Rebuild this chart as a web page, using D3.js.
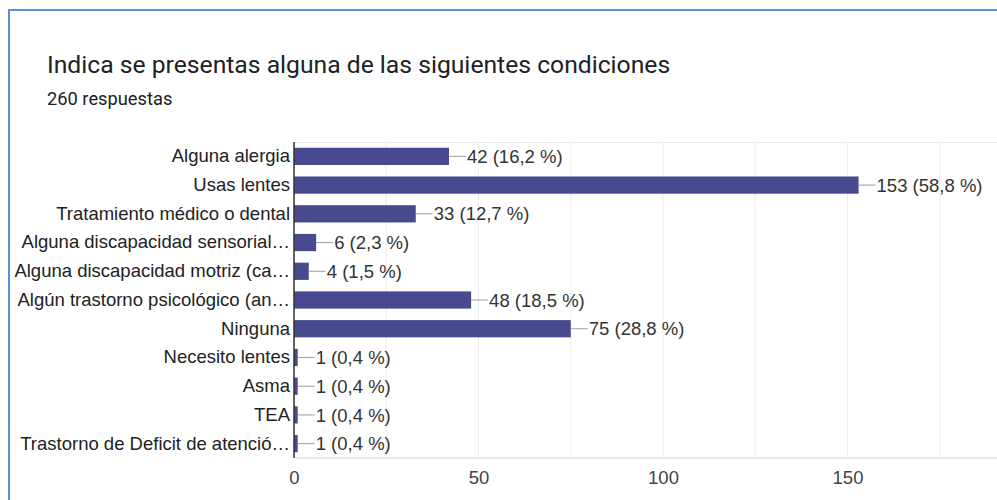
<!DOCTYPE html>
<html>
<head>
<meta charset="utf-8">
<script src="https://cdn.jsdelivr.net/npm/d3@7"></script>
<style>
  body { margin: 0; background: #fff; }
  svg { display: block; }
</style>
</head>
<body>
<svg id="chart"></svg>
<script>
var categories = [
    "Alguna alergia",
    "Usas lentes",
    "Tratamiento médico o dental",
    "Alguna discapacidad sensorial…",
    "Alguna discapacidad motriz (ca…",
    "Algún trastorno psicológico (an…",
    "Ninguna",
    "Necesito lentes",
    "Asma",
    "TEA",
    "Trastorno de Deficit de atenció…"
]
var counts = [42, 153, 33, 6, 4, 48, 75, 1, 1, 1, 1]
var percents = ["16,2", "58,8", "12,7", "2,3", "1,5", "18,5", "28,8", "0,4", "0,4", "0,4", "0,4"]
var xTicks = [0, 50, 100, 150]
var gridTicks = [0, 25, 50, 75, 100, 125, 150, 175, 200]

var dimensions = {
    width: 997,
    height: 500,
    margin: { top: 142, bottom: 42, left: 294 }
}

var labelFont = "18.5px 'Liberation Sans', Arial, sans-serif"

var svg = d3.select("#chart")
    .attr("width", dimensions.width)
    .attr("height", dimensions.height)

// card border (top and left only visible)
svg.append("path")
    .attr("d", "M9,500 L9,10 L997,10")
    .attr("fill", "none")
    .attr("stroke", "#5b8fd4")
    .attr("stroke-width", 2)

svg.append("text")
    .attr("x", 47)
    .attr("y", 73)
    .style("font", "24.7px Roboto")
    .attr("fill", "#202124")
    .text("Indica se presentas alguna de las siguientes condiciones")

svg.append("text")
    .attr("x", 47)
    .attr("y", 105)
    .style("font", "18.3px Roboto")
    .attr("fill", "#202124")
    .text("260 respuestas")

var plotBottom = dimensions.height - dimensions.margin.bottom

var xScale = d3.scaleLinear()
    .domain([0, 200])
    .range([dimensions.margin.left, dimensions.margin.left + 200 * 3.69])

var yScale = d3.scaleBand()
    .domain(categories)
    .range([dimensions.margin.top, plotBottom])
    .paddingInner(0.4)
    .paddingOuter(0.2)

// gridlines
svg.append("g")
    .selectAll("line")
    .data(gridTicks)
    .enter()
    .append("line")
    .attr("x1", function (d) { return xScale(d) })
    .attr("x2", function (d) { return xScale(d) })
    .attr("y1", dimensions.margin.top)
    .attr("y2", plotBottom)
    .attr("stroke", "#ebebeb")
    .attr("stroke-width", 1)

svg.append("line")
    .attr("x1", dimensions.margin.left)
    .attr("x2", dimensions.width)
    .attr("y1", dimensions.margin.top + 0.5)
    .attr("y2", dimensions.margin.top + 0.5)
    .attr("stroke", "#ebebeb")

svg.append("line")
    .attr("x1", dimensions.margin.left)
    .attr("x2", dimensions.width)
    .attr("y1", plotBottom)
    .attr("y2", plotBottom)
    .attr("stroke", "#ebebeb")
    .attr("stroke-width", 2)

// bars
svg.append("g")
    .selectAll("rect")
    .data(categories)
    .enter()
    .append("rect")
    .attr("x", xScale(0))
    .attr("y", function (d) { return yScale(d) })
    .attr("width", function (d, i) { return xScale(counts[i]) - xScale(0) })
    .attr("height", yScale.bandwidth())
    .attr("fill", "#474a8e")

// leader lines and value labels
var valueGroup = svg.append("g")

valueGroup.selectAll("line")
    .data(categories)
    .enter()
    .append("line")
    .attr("x1", function (d, i) { return xScale(counts[i]) })
    .attr("x2", function (d, i) { return xScale(counts[i]) + 17 })
    .attr("y1", function (d) { return yScale(d) + yScale.bandwidth() / 2 })
    .attr("y2", function (d) { return yScale(d) + yScale.bandwidth() / 2 })
    .attr("stroke", "#9e9e9e")
    .attr("stroke-width", 1)

valueGroup.selectAll("text")
    .data(categories)
    .enter()
    .append("text")
    .attr("x", function (d, i) { return xScale(counts[i]) + 18 })
    .attr("y", function (d) { return yScale(d) + yScale.bandwidth() / 2 })
    .attr("dy", "0.36em")
    .style("font", labelFont)
    .attr("fill", "#333")
    .text(function (d, i) { return counts[i] + " (" + percents[i] + " %)" })

// category labels
var yAxis = d3.axisLeft(yScale).tickSize(0).tickPadding(4)

var yG = svg.append("g")
    .attr("transform", "translate(" + dimensions.margin.left + ",0)")
    .call(yAxis)
yG.select(".domain").remove()
yG.selectAll("text")
    .style("font", labelFont)
    .attr("fill", "#222")

// vertical axis line
svg.append("line")
    .attr("x1", xScale(0))
    .attr("x2", xScale(0))
    .attr("y1", dimensions.margin.top)
    .attr("y2", plotBottom)
    .attr("stroke", "#333")
    .attr("stroke-width", 1.5)

// x axis labels
var xAxis = d3.axisBottom(xScale).tickValues(xTicks).tickSize(0).tickPadding(13)
var xG = svg.append("g")
    .attr("transform", "translate(0," + plotBottom + ")")
    .call(xAxis)
xG.select(".domain").remove()
xG.selectAll("text")
    .style("font", labelFont)
    .attr("fill", "#444")
</script>
</body>
</html>
